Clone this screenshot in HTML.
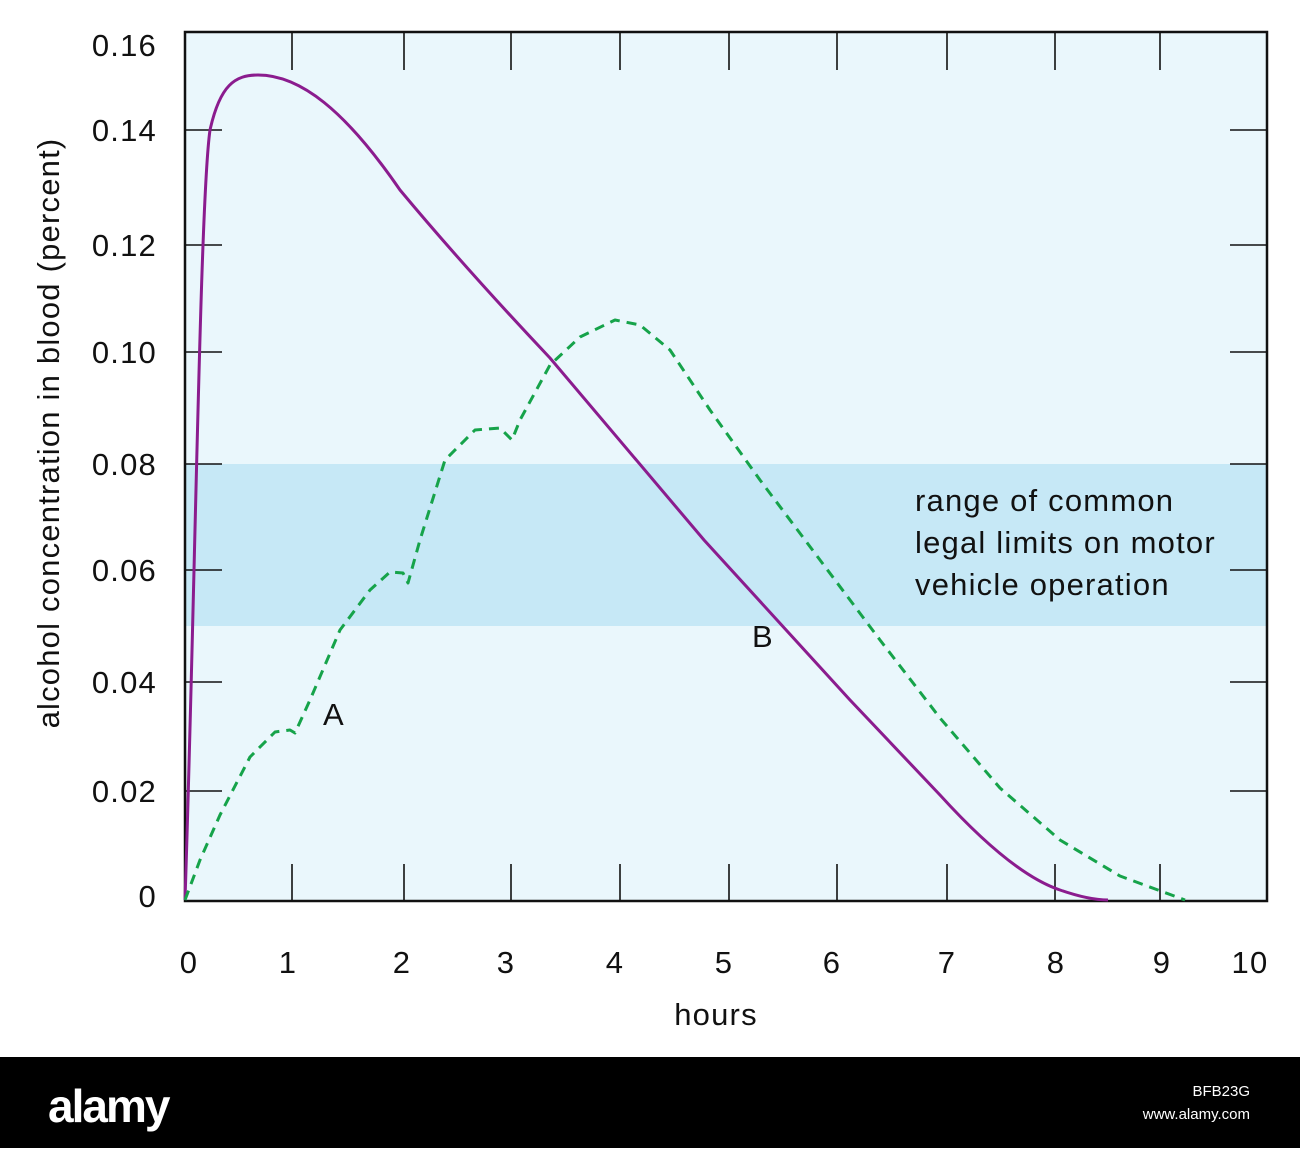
<!DOCTYPE html>
<html><head><style>
body{margin:0;width:1300px;height:1148px;background:#fff;overflow:hidden;font-family:"Liberation Sans",sans-serif}
</style></head><body>
<svg width="1300" height="1148" xmlns="http://www.w3.org/2000/svg" font-family="Liberation Sans, sans-serif">
<rect x="185" y="32" width="1082" height="869" fill="#eaf7fc"/>
<rect x="185" y="464" width="1082" height="162" fill="#c6e8f6"/>
<g stroke="#111" stroke-width="1.6">
<line x1="292" y1="32" x2="292" y2="70"/><line x1="404" y1="32" x2="404" y2="70"/><line x1="511" y1="32" x2="511" y2="70"/><line x1="620" y1="32" x2="620" y2="70"/><line x1="729" y1="32" x2="729" y2="70"/><line x1="837" y1="32" x2="837" y2="70"/><line x1="947" y1="32" x2="947" y2="70"/><line x1="1055" y1="32" x2="1055" y2="70"/><line x1="1160" y1="32" x2="1160" y2="70"/>
<line x1="292" y1="901" x2="292" y2="864"/><line x1="404" y1="901" x2="404" y2="864"/><line x1="511" y1="901" x2="511" y2="864"/><line x1="620" y1="901" x2="620" y2="864"/><line x1="729" y1="901" x2="729" y2="864"/><line x1="837" y1="901" x2="837" y2="864"/><line x1="947" y1="901" x2="947" y2="864"/><line x1="1055" y1="901" x2="1055" y2="864"/><line x1="1160" y1="901" x2="1160" y2="864"/>
<line x1="185" y1="130" x2="222" y2="130"/><line x1="185" y1="245" x2="222" y2="245"/><line x1="185" y1="352" x2="222" y2="352"/><line x1="185" y1="464" x2="222" y2="464"/><line x1="185" y1="570" x2="222" y2="570"/><line x1="185" y1="682" x2="222" y2="682"/><line x1="185" y1="791" x2="222" y2="791"/>
<line x1="1267" y1="130" x2="1230" y2="130"/><line x1="1267" y1="245" x2="1230" y2="245"/><line x1="1267" y1="352" x2="1230" y2="352"/><line x1="1267" y1="464" x2="1230" y2="464"/><line x1="1267" y1="570" x2="1230" y2="570"/><line x1="1267" y1="682" x2="1230" y2="682"/><line x1="1267" y1="791" x2="1230" y2="791"/>
</g>
<rect x="185" y="32" width="1082" height="869" fill="none" stroke="#111" stroke-width="2.5"/>
<path d="M185,900 C195,600 200,200 210,130 C220,85 235,75 258,75 C300,75 345,110 400,190 C450,250 500,305 550,358 L704,540 L850,700 L940,795 C990,850 1030,880 1060,890 C1080,897 1095,900 1108,900" fill="none" stroke="#8b1c8e" stroke-width="3"/>
<polyline points="185,900 200,860 220,815 250,757 275,732 290,730 295,733 310,700 340,630 370,590 390,572 403,573 408,583 420,540 445,460 475,430 500,428 512,440 520,420 550,365 580,337 615,320 640,325 670,350 710,410 760,480 820,560 880,640 940,718 1000,788 1060,840 1120,876 1185,900" fill="none" stroke="#16a34a" stroke-width="3" stroke-dasharray="10,7" stroke-linejoin="round"/>
<g font-size="31" fill="#111" letter-spacing="1.2">
<text x="157" y="56" text-anchor="end">0.16</text>
<text x="157" y="141" text-anchor="end">0.14</text>
<text x="157" y="256" text-anchor="end">0.12</text>
<text x="157" y="363" text-anchor="end">0.10</text>
<text x="157" y="475" text-anchor="end">0.08</text>
<text x="157" y="581" text-anchor="end">0.06</text>
<text x="157" y="693" text-anchor="end">0.04</text>
<text x="157" y="802" text-anchor="end">0.02</text>
<text x="157" y="907" text-anchor="end">0</text>
<g text-anchor="middle">
<text x="189" y="973">0</text><text x="288" y="973">1</text><text x="402" y="973">2</text><text x="506" y="973">3</text><text x="615" y="973">4</text><text x="724" y="973">5</text><text x="832" y="973">6</text><text x="947" y="973">7</text><text x="1056" y="973">8</text><text x="1162" y="973">9</text><text x="1250" y="973">10</text>
<text x="716" y="1025">hours</text>
</g>
<text transform="translate(59,433) rotate(-90)" text-anchor="middle">alcohol concentration in blood (percent)</text>
<text x="323" y="725">A</text>
<text x="752" y="647">B</text>
<text x="915" y="511">range of common</text>
<text x="915" y="553">legal limits on motor</text>
<text x="915" y="595">vehicle operation</text>
</g>
<rect x="0" y="1057" width="1300" height="91" fill="#000"/>
<text x="48" y="1122" font-size="46" font-weight="bold" fill="#fff" letter-spacing="-2">alamy</text>
<text x="1250" y="1096" font-size="15" fill="#fff" text-anchor="end">BFB23G</text>
<text x="1250" y="1119" font-size="15" fill="#fff" text-anchor="end">www.alamy.com</text>
</svg>
</body></html>
